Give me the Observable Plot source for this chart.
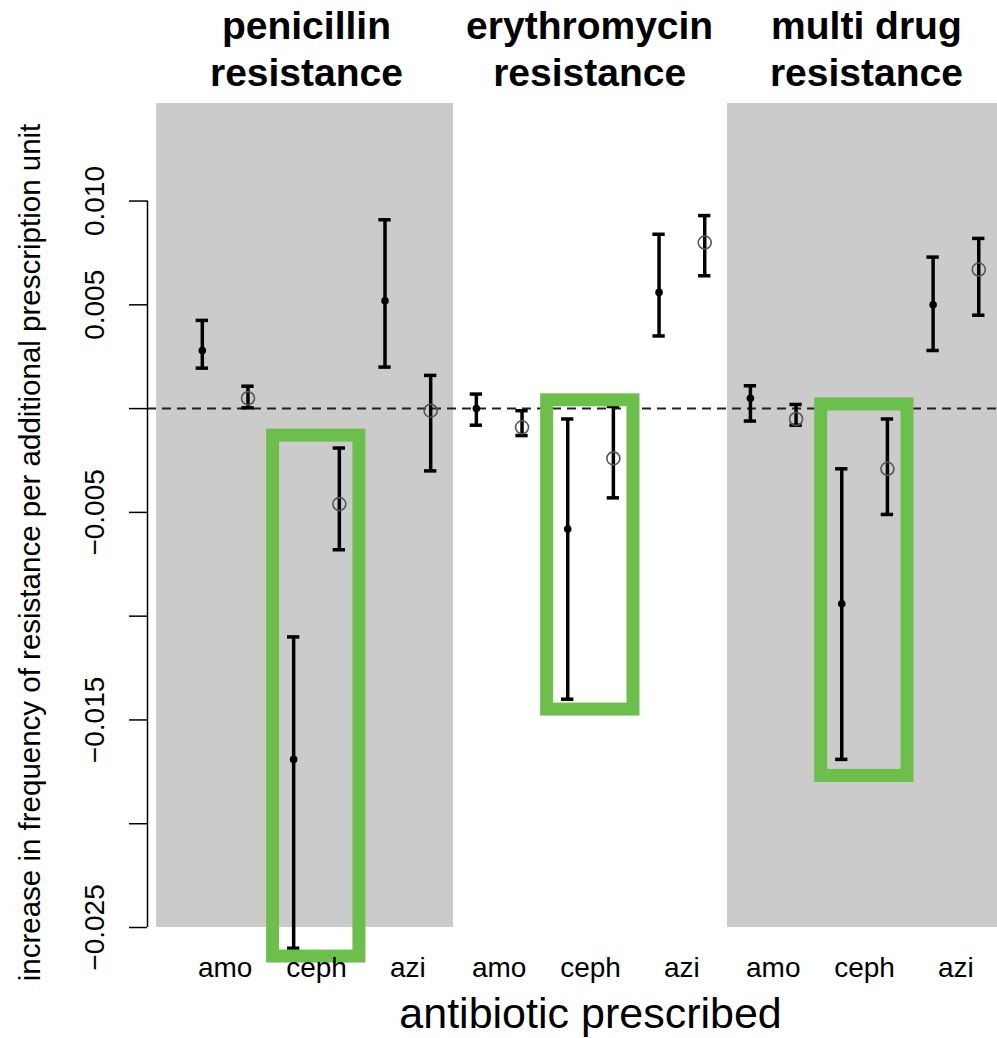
<!DOCTYPE html>
<html>
<head>
<meta charset="utf-8">
<script src="https://cdn.jsdelivr.net/npm/d3@7"></script>
<script src="https://cdn.jsdelivr.net/npm/@observablehq/plot@0.6"></script>
<style>
  html, body { margin: 0; padding: 0; background: #fff; }
  #chart svg { display: block; }
</style>
</head>
<body>
<div id="chart"></div>
<script>
// ---- data ----
const panels = ["penicillin\nresistance", "erythromycin\nresistance", "multi drug\nresistance"];
const shadedPanels = [0, 2];
const antibiotics = ["amo", "ceph", "azi"];
const estimateType = ["filled", "open"];
// 18 estimates: panel × antibiotic × (filled, open)
const estimate = [0.0028, 0.0005, -0.0169, -0.0046, 0.0052, -0.0001,
                  0.0000, -0.0009, -0.0058, -0.0024, 0.0056, 0.0080,
                  0.0005, -0.0005, -0.0094, -0.0029, 0.0050, 0.0067];
const lower    = [0.00195, 0.00004, -0.0260, -0.0068, 0.0020, -0.0030,
                  -0.0008, -0.0013, -0.0140, -0.0043, 0.0035, 0.0064,
                  -0.0006, -0.0008, -0.0169, -0.0051, 0.0028, 0.0045];
const upper    = [0.00425, 0.00108, -0.0110, -0.0019, 0.0091, 0.0016,
                  0.0007, -0.0001, -0.0005, 0.0001, 0.0084, 0.0093,
                  0.0011, 0.0002, -0.0029, -0.0005, 0.0073, 0.0082];
const highlightAntibiotic = "ceph";
const highlightTop = [-0.0013, 0.0004, 0.0002];
const highlightBottom = [-0.0264, -0.0145, -0.0177];
const yTicks = [-0.025, -0.02, -0.015, -0.01, -0.005, 0, 0.005, 0.01];
const yTickLabels = ["\u22120.025", "", "\u22120.015", "", "\u22120.005", "", "0.005", "0.010"];
const xTitle = "antibiotic prescribed";
const yTitle = "increase in frequency of resistance per additional prescription unit";

// ---- derived tables ----
const perPanel = antibiotics.length * estimateType.length;
const rows = estimate.map((v, k) => ({
  panel: Math.floor(k / perPanel),
  antibiotic: antibiotics[Math.floor((k % perPanel) / 2)],
  type: estimateType[k % 2],
  pos: k + 1,
  estimate: v, lower: lower[k], upper: upper[k]
}));
const xDomain = [-0.2, 18.41];
const yDomain = [-0.025, 0.0147];
const tickLabelRows = panels.flatMap((p, g) => antibiotics.map((a, j) => ({a, x: g * perPanel + j * 2 + 1.5})));
const hi = antibiotics.indexOf(highlightAntibiotic);
const boxes = panels.map((p, g) => ({
  x1: g * perPanel + hi * 2 + 1 - 0.45,
  x2: g * perPanel + hi * 2 + 2 + 0.44,
  y1: highlightBottom[g], y2: highlightTop[g]
}));
const shades = shadedPanels.map(g => ({
  x1: g === 0 ? 0 : g * perPanel + 0.5,
  x2: Math.min(g * perPanel + perPanel + 0.5, xDomain[1]),
  y1: yDomain[0], y2: yDomain[1]
}));
const titleNudge = [-0.22, -0.02, 0.04];
const labelled = yTicks.map((t, i) => ({t, label: yTickLabels[i]})).filter(d => d.label);
const capHalf = 0.135;
const font = "Liberation Sans, Arimo, Arial, Helvetica, sans-serif";

const chart = Plot.plot({
  width: 997,
  height: 1038,
  marginLeft: 147,
  marginRight: 0,
  marginTop: 103,
  marginBottom: 111,
  style: {fontFamily: font, background: "#fff", color: "#000"},
  x: {domain: xDomain, axis: null},
  y: {domain: yDomain, axis: null},
  marks: [
    Plot.rect(shades, {x1: "x1", x2: "x2", y1: "y1", y2: "y2", fill: "#cbcbcb"}),
    Plot.ruleY([0], {x1: xDomain[0], x2: xDomain[1], stroke: "#222", strokeWidth: 2, strokeDasharray: "9,6"}),
    // y axis
    Plot.ruleX([xDomain[0]], {y1: yTicks[0], y2: yTicks[yTicks.length - 1], stroke: "#000", strokeWidth: 1.5}),
    Plot.axisY({ticks: yTicks, tickSize: 18, tickFormat: () => "", stroke: "#000", strokeWidth: 1.5, strokeOpacity: 1}),
    Plot.text(labelled, {y: "t", text: "label", frameAnchor: "left", dx: -44, rotate: -90,
      textAnchor: "middle", lineAnchor: "bottom", fontSize: 28, fill: "#000"}),
    Plot.text([yTitle], {frameAnchor: "left", dx: -117, dy: 37, rotate: -90,
      textAnchor: "middle", lineAnchor: "middle", fontSize: 29.5, fill: "#000"}),
    // error bars
    Plot.ruleX(rows, {x: "pos", y1: "lower", y2: "upper", stroke: "#000", strokeWidth: 3.5}),
    Plot.ruleY(rows, {y: "lower", x1: d => d.pos - capHalf, x2: d => d.pos + capHalf, stroke: "#000", strokeWidth: 3.5}),
    Plot.ruleY(rows, {y: "upper", x1: d => d.pos - capHalf, x2: d => d.pos + capHalf, stroke: "#000", strokeWidth: 3.5}),
    // points
    Plot.dot(rows.filter(d => d.type === "filled"), {x: "pos", y: "estimate", r: 3.8, fill: "#000", stroke: "none"}),
    Plot.dot(rows.filter(d => d.type === "open"), {x: "pos", y: "estimate", r: 6.5, fill: "none", stroke: "#555", strokeWidth: 1.6}),
    // highlight boxes
    Plot.rect(boxes, {x1: "x1", x2: "x2", y1: "y1", y2: "y2", fill: "none", stroke: "#6dbf4b", strokeWidth: 13}),
    // x tick labels
    Plot.text(tickLabelRows, {x: "x", text: "a", frameAnchor: "bottom", dy: 49, lineAnchor: "bottom",
      fontSize: 28, fill: "#000"}),
    Plot.text([xTitle], {x: () => 9.5, frameAnchor: "bottom", dy: 100, lineAnchor: "bottom", fontSize: 43, fill: "#000"}),
    // panel titles
    Plot.text(panels, {x: (d, i) => i * perPanel + 3.5 + titleNudge[i], text: d => d, frameAnchor: "top", dy: -18,
      lineAnchor: "bottom", lineHeight: 1.18, fontSize: 39, fontWeight: "bold", fill: "#000"})
  ]
});
document.getElementById("chart").appendChild(chart);
</script>
</body>
</html>
